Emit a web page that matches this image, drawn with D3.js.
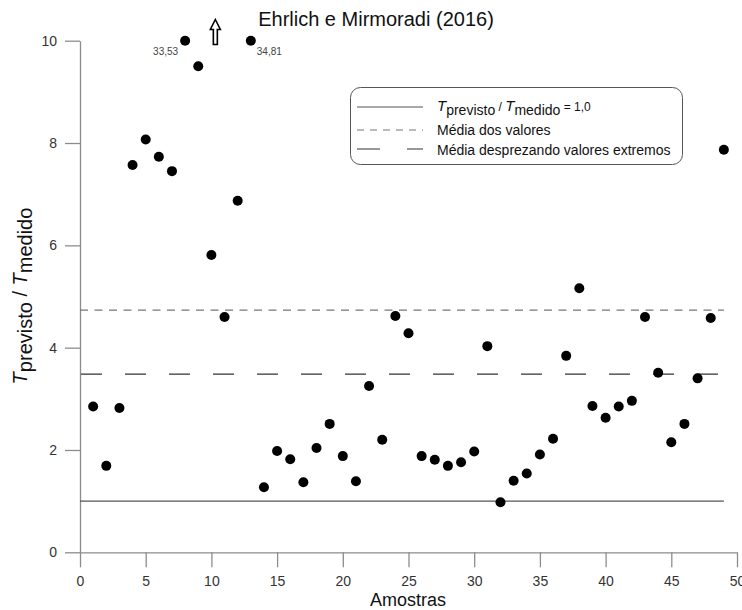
<!DOCTYPE html>
<html>
<head>
<meta charset="utf-8">
<script src="https://cdn.jsdelivr.net/npm/d3@7"></script>
<style>
  html, body { margin: 0; padding: 0; background: #fff; }
  svg { display: block; font-family: "Liberation Sans", Arial, sans-serif; }
</style>
</head>
<body>
<svg id="chart" width="742" height="610"></svg>
<script>
// Ratio T_previsto / T_medido for each sample
const samples = d3.range(1, 50);
const ratios = [
  2.85, 1.69, 2.82, 7.57, 8.07, 7.73, 7.45, 33.53, 9.50, 5.81,
  4.60, 6.87, 34.81, 1.27, 1.98, 1.82, 1.37, 2.04, 2.51, 1.88,
  1.39, 3.25, 2.20, 4.62, 4.28, 1.88, 1.81, 1.69, 1.76, 1.97,
  4.03, 0.98, 1.40, 1.54, 1.91, 2.22, 3.84, 5.16, 2.86, 2.63,
  2.85, 2.96, 4.60, 3.51, 2.15, 2.51, 3.40, 4.58, 7.87
];
const xTicks = d3.range(0, 51, 5);
const xMinorTicks = d3.range(2.5, 50, 5);
const yTicks = [0, 2, 4, 6, 8, 10];
const yMinorTicks = [1, 3, 5, 7, 9];
const extremeLimit = 10;

const points = samples.map((s, i) => ({ s, v: ratios[i] }));
const meanAll = d3.mean(ratios);
const meanTrimmed = d3.mean(ratios.filter(v => v <= extremeLimit));

const svg = d3.select("#chart");
const x = d3.scaleLinear().domain([0, 50]).range([80, 737]);
const y = d3.scaleLinear().domain([0, 10]).range([552.3, 40.7]).clamp(true);

const fmt = v => d3.format(".2f")(v).replace(".", ",");

// Axes
const axisColor = "#8c8c8c";
const labelColor = "#333";

const gx = svg.append("g").attr("transform", `translate(0,${y(0)})`);
gx.call(d3.axisBottom(x).tickValues(xMinorTicks).tickSize(8).tickFormat(""));
gx.call(d3.axisBottom(x).tickValues(xTicks).tickSize(15).tickSizeOuter(0).tickPadding(9).tickFormat(d3.format("d")));
gx.selectAll("path.domain").attr("stroke", axisColor).attr("stroke-width", 1.3);
gx.selectAll(".tick line").attr("stroke", axisColor).attr("stroke-width", 1.3);
gx.selectAll(".tick text").attr("fill", labelColor).attr("font-size", 14);

const gy = svg.append("g").attr("transform", `translate(${x(0)},0)`);
gy.call(d3.axisLeft(y).tickValues(yMinorTicks).tickSize(8).tickFormat(""));
gy.call(d3.axisLeft(y).tickValues(yTicks).tickSize(15).tickSizeOuter(0).tickPadding(8).tickFormat(d3.format("d")));
gy.selectAll("path.domain").attr("stroke", axisColor).attr("stroke-width", 1.3);
gy.selectAll(".tick line").attr("stroke", axisColor).attr("stroke-width", 1.3);
gy.selectAll(".tick text").attr("fill", labelColor).attr("font-size", 14);

// Reference lines
const lineX0 = x(0), lineX1 = x(49);
svg.append("line").attr("x1", lineX0).attr("x2", lineX1)
  .attr("y1", y(1)).attr("y2", y(1))
  .attr("stroke", "#555").attr("stroke-width", 1.1);
svg.append("line").attr("x1", lineX0).attr("x2", lineX1)
  .attr("y1", y(meanAll)).attr("y2", y(meanAll))
  .attr("stroke", "#777").attr("stroke-width", 1.2).attr("stroke-dasharray", "8,6.5");
svg.append("line").attr("x1", lineX0 + 1).attr("x2", lineX1)
  .attr("y1", y(meanTrimmed)).attr("y2", y(meanTrimmed))
  .attr("stroke", "#333").attr("stroke-width", 1.2).attr("stroke-dasharray", "21,23");

// Points
svg.append("g").selectAll("circle").data(points).join("circle")
  .attr("cx", d => x(d.s)).attr("cy", d => y(d.v))
  .attr("r", 5).attr("fill", "#000");

// Values of the off-scale samples
const offScale = points.filter(d => d.v > extremeLimit);
svg.append("g").selectAll("text").data(offScale).join("text")
  .attr("x", (d, i) => i === 0 ? x(d.s) - 7 : x(d.s) + 6)
  .attr("y", y(extremeLimit) + 14)
  .attr("text-anchor", (d, i) => i === 0 ? "end" : "start")
  .attr("font-size", 10).attr("fill", "#444")
  .text(d => fmt(d.v));

// Hollow arrow marking values beyond the axis
const ax = x(10.3), ay = 19.5;
svg.append("path")
  .attr("d", `M${ax},${ay} L${ax + 5},${ay + 10} L${ax + 2},${ay + 10} L${ax + 2},${ay + 25} L${ax - 2},${ay + 25} L${ax - 2},${ay + 10} L${ax - 5},${ay + 10} Z`)
  .attr("fill", "#fff").attr("stroke", "#000").attr("stroke-width", 1.6).attr("stroke-linejoin", "miter");

// Title
svg.append("text").attr("x", 376).attr("y", 26).attr("text-anchor", "middle")
  .attr("font-size", 20).attr("fill", "#111").text("Ehrlich e Mirmoradi (2016)");

// X axis title
svg.append("text").attr("x", 408).attr("y", 606).attr("text-anchor", "middle")
  .attr("font-size", 18).attr("fill", "#111").text("Amostras");

// Y axis title
const yt = svg.append("text").attr("transform", "translate(27,296) rotate(-90)")
  .attr("text-anchor", "middle").attr("font-size", 20).attr("fill", "#111");
yt.append("tspan").attr("font-style", "italic").text("T");
yt.append("tspan").attr("dy", 5).text("previsto");
yt.append("tspan").attr("dy", -5).text(" / ");
yt.append("tspan").attr("font-style", "italic").text("T");
yt.append("tspan").attr("dy", 5).text("medido");

// Legend
const lg = svg.append("g");
lg.append("rect").attr("x", 350.5).attr("y", 87.5).attr("width", 332).attr("height", 77)
  .attr("rx", 10).attr("fill", "#fff").attr("stroke", "#555").attr("stroke-width", 1);
const legendRows = [
  { yy: 107, stroke: "#555", dash: null },
  { yy: 130, stroke: "#777", dash: "7,6" },
  { yy: 149, stroke: "#333", dash: "23,27" }
];
legendRows.forEach(r => {
  const l = lg.append("line").attr("x1", 357).attr("x2", 423)
    .attr("y1", r.yy).attr("y2", r.yy).attr("stroke", r.stroke).attr("stroke-width", 1.1);
  if (r.dash) l.attr("stroke-dasharray", r.dash);
});
const t1 = lg.append("text").attr("x", 437).attr("y", 111).attr("font-size", 14).attr("fill", "#111");
t1.append("tspan").attr("font-style", "italic").attr("font-size", 15).text("T");
t1.append("tspan").attr("dy", 4).text("previsto");
t1.append("tspan").attr("dy", -4).attr("font-size", 12).text(" / ");
t1.append("tspan").attr("font-style", "italic").attr("font-size", 15).text("T");
t1.append("tspan").attr("dy", 4).text("medido");
t1.append("tspan").attr("dy", -4).attr("font-size", 12).text(" = 1,0");
lg.append("text").attr("x", 437).attr("y", 135).attr("font-size", 14).attr("fill", "#111").text("Média dos valores");
lg.append("text").attr("x", 437).attr("y", 155).attr("font-size", 14).attr("fill", "#111").text("Média desprezando valores extremos");
</script>
</body>
</html>
